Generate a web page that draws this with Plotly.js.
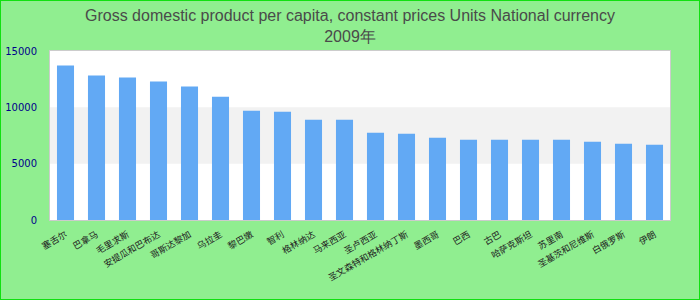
<!DOCTYPE html>
<html>
<head>
<meta charset="utf-8">
<script src="https://cdn.plot.ly/plotly-3.0.1.min.js"></script>
<style>
  html, body { margin: 0; padding: 0; background: #90ee90; }
  #wrap { position: relative; width: 700px; height: 300px; }
  #chart { width: 700px; height: 300px; }
  #frame { position: absolute; left: 0; top: 0; width: 700px; height: 300px; box-sizing: border-box; border: 1px solid #11e011; pointer-events: none; }
</style>
</head>
<body>
<div id="wrap"><div id="chart"></div><div id="frame"></div></div>
<script>
// Data
const countries = [
  "塞舌尔", "巴拿马", "毛里求斯", "安提瓜和巴布达", "哥斯达黎加",
  "乌拉圭", "黎巴嫩", "智利", "格林纳达", "马来西亚",
  "圣卢西亚", "圣文森特和格林纳丁斯", "墨西哥", "巴西", "古巴",
  "哈萨克斯坦", "苏里南", "圣基茨和尼维斯", "白俄罗斯", "伊朗"
];
const gdpPerCapita = [
  13710, 12820, 12645, 12290, 11845,
  10950, 9705, 9615, 8905, 8905,
  7750, 7660, 7300, 7125, 7125,
  7125, 7125, 6945, 6770, 6680
];
const yTickValues = [0, 5000, 10000, 15000];
const yTickLabels = ["0", "5000", "10000", "15000"];
const titleText = "Gross domestic product per capita, constant prices Units National currency<br>2009年";

const trace = {
  type: "bar",
  x: countries,
  y: gdpPerCapita,
  marker: { color: "#62a9f4" },
  hoverinfo: "x+y"
};

const layout = {
  width: 700,
  height: 300,
  paper_bgcolor: "#90ee90",
  plot_bgcolor: "#ffffff",
  margin: { l: 50, r: 30, t: 51, b: 80, autoexpand: false },
  bargap: 0.45,
  showlegend: false,
  title: {
    text: titleText,
    font: { family: "Liberation Sans, Arial, sans-serif", size: 16, color: "#4a4a4a" },
    x: 0.5,
    xanchor: "center",
    yref: "container",
    y: 0.93,
    yanchor: "top"
  },
  xaxis: {
    type: "category",
    tickangle: -30,
    tickfont: { family: "Noto Sans CJK SC, sans-serif", size: 9, color: "#222" },
    showgrid: false,
    zeroline: false,
    showline: true,
    mirror: true,
    linecolor: "#cccccc",
    linewidth: 1,
    ticks: "outside",
    ticklen: 5,
    tickcolor: "rgba(0,0,0,0)",
    automargin: false
  },
  yaxis: {
    range: [0, 15000],
    tickvals: yTickValues,
    ticktext: yTickLabels,
    tickfont: { family: "DejaVu Sans, sans-serif", size: 10, color: "#00008b" },
    showgrid: false,
    zeroline: false,
    showline: true,
    mirror: true,
    linecolor: "#cccccc",
    linewidth: 1,
    ticks: "",
    ticklabelstandoff: 10,
    automargin: false
  },
  shapes: [
    {
      type: "rect", layer: "below",
      xref: "paper", x0: 0, x1: 1,
      yref: "y", y0: 5000, y1: 10000,
      fillcolor: "#f2f2f2", line: { width: 0 }
    }
  ]
};

Plotly.newPlot("chart", [trace], layout, { displayModeBar: false, staticPlot: true });
</script>
</body>
</html>
